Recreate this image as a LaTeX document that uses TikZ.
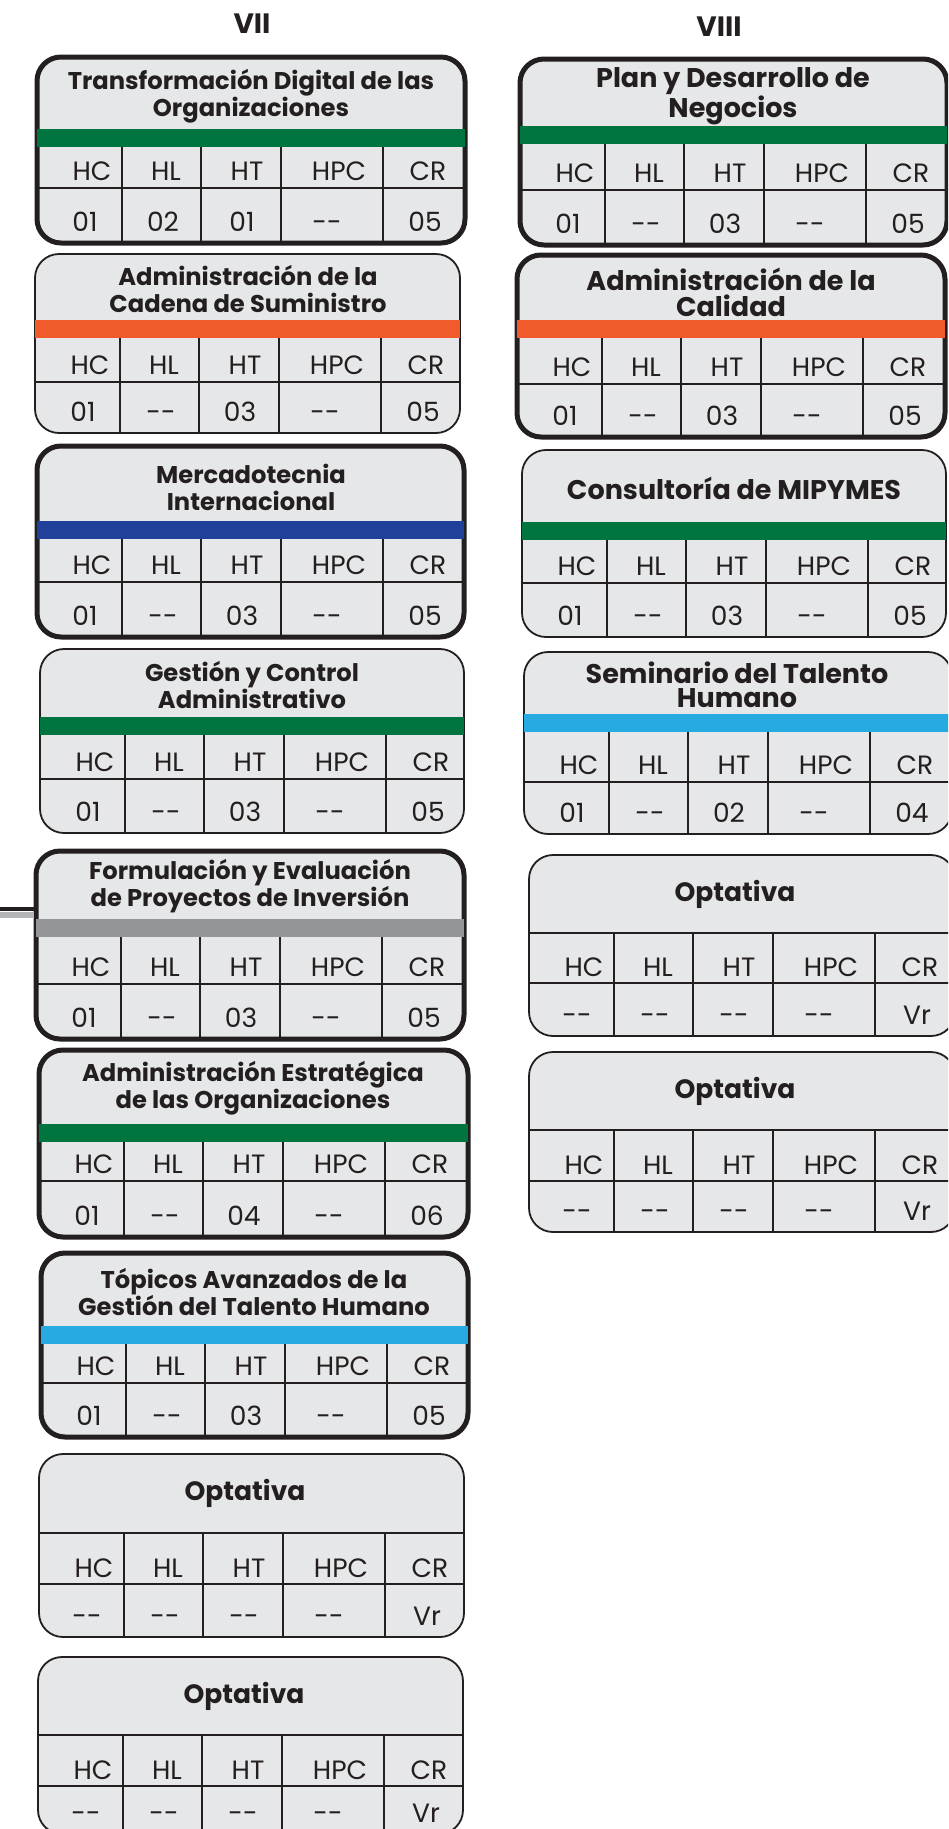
\documentclass[tikz,border=0pt]{standalone}
\usepackage{fontspec}
\setmainfont{Poppins}
\usetikzlibrary{fit}

\definecolor{fondo}{HTML}{E6E7E8}
\definecolor{tinta}{HTML}{231F20}
\definecolor{verde}{HTML}{00753F}
\definecolor{naranja}{HTML}{F15A2B}
\definecolor{azul}{HTML}{21409A}
\definecolor{celeste}{HTML}{27AAE1}
\definecolor{gris}{HTML}{939598}

\tikzset{
    caja/.style={draw=tinta, fill=fondo, rounded corners=24pt, inner sep=0pt},
    grueso/.style={line width=5pt},
    fino/.style={line width=1.8pt},
    raya/.style={draw=tinta, line width=1.5pt},
    titulo/.style={font=\fontsize{24.2}{27}\selectfont\bfseries, text=tinta, align=center},
    tituloG/.style={titulo, font=\fontsize{27}{26}\selectfont\bfseries},
    celda/.style={font=\fontsize{26.5}{30}\selectfont, text=tinta, anchor=base, inner sep=0pt},
    semestre/.style={font=\fontsize{28}{28}\selectfont\bfseries, text=tinta}
}

\newcommand{\nd}{-{}-}

% nombre, x0, y0, x1, y1, banda, fila, color, borde
\newcommand{\materia}[9]{
    \coordinate (#1-nw) at (#2,#3);
    \coordinate (#1-se) at (#4,#5);
    \node[caja, #9, fit=(#1-nw)(#1-se)] (#1) {};
    \fill[#8] (#2,#6) rectangle (#4,#6+18);
    \draw[raya] (#2,#7) -- (#4,#7);
    \foreach \dx in {85,164,244,346}
        \draw[raya] (#2+\dx,#6+18) -- (#2+\dx,#5);
    \foreach \cab/\dx in {HC/55,HL/129,HT/210,HPC/302,CR/391}
        \node[celda] (#1-\cab) at (#2+\dx,#7-8) {\cab};
}

% nombre, x0, y0, x1, y1, linea, fila
\newcommand{\optativa}[7]{
    \coordinate (#1-nw) at (#2,#3);
    \coordinate (#1-se) at (#4,#5);
    \node[caja, fino, fit=(#1-nw)(#1-se)] (#1) {};
    \draw[raya] (#2,#6) -- (#4,#6);
    \draw[raya] (#2,#7) -- (#4,#7);
    \foreach \dx in {85,164,244,346}
        \draw[raya] (#2+\dx,#6) -- (#2+\dx,#5);
    \foreach \cab/\dx in {HC/55,HL/129,HT/210,HPC/302,CR/391}
        \node[celda] (#1-\cab) at (#2+\dx,#7-7) {\cab};
    \node[titulo, font=\fontsize{26.5}{28}\selectfont\bfseries] (#1-t) at (#2+206,#3/2+#6/2) {Optativa};
    \valores{#1}{#2}{#5-12}{\nd,\nd,\nd,\nd,Vr}
}

% nombre, x0, base, lista
\newcommand{\valores}[4]{
    \foreach \val [count=\i] in {#4} {
        \pgfmathsetmacro{\dx}{{48,126,205,290,388}[\i-1]}
        \node[celda] (#1-v\i) at (#2+\dx,#3) {\val};
    }
}

\begin{document}
\begin{tikzpicture}[x=1pt, y=-1pt]
    \useasboundingbox (0,0) rectangle (948,1829);
    \clip (0,0) rectangle (948,1829);

    \node[semestre] (s7) at (252,24) {VII};
    \node[semestre] (s8) at (719,27) {VIII};

    % semestre VII
    \materia{TDO}{37}{57}{465}{243}{129}{188}{verde}{grueso}
    \node[titulo] (TDO-t) at (251,96) {Transformación Digital de las\\Organizaciones};
    \valores{TDO}{37}{231}{01,02,01,\nd,05}

    \materia{ACS}{35}{254}{460}{433}{320}{382}{naranja}{fino}
    \node[titulo] (ACS-t) at (248,289) {Administración de la\\Cadena de Suministro};
    \valores{ACS}{35}{421}{01,\nd,03,\nd,05}

    \materia{MI}{37}{446}{464}{637}{521}{582}{azul}{grueso}
    \node[titulo] (MI-t) at (251,487) {Mercadotecnia\\Internacional};
    \valores{MI}{37}{625}{01,\nd,03,\nd,05}

    \materia{GCA}{40}{649}{464}{833}{717}{779}{verde}{fino}
    \node[titulo] (GCA-t) at (252,685) {Gestión y Control\\Administrativo};
    \valores{GCA}{40}{821}{01,\nd,03,\nd,05}

    \materia{FEPI}{36}{851}{464}{1039}{919}{984}{gris}{grueso}
    \node[titulo] (FEPI-t) at (250,886) {Formulación y Evaluación\\de Proyectos de Inversión};
    \valores{FEPI}{36}{1027}{01,\nd,03,\nd,05}

    \materia{AEO}{39}{1050}{468}{1237}{1124}{1181}{verde}{grueso}
    \node[titulo] (AEO-t) at (253,1088) {Administración Estratégica\\de las Organizaciones};
    \valores{AEO}{39}{1225}{01,\nd,04,\nd,06}

    \materia{TAG}{41}{1253}{468}{1437}{1326}{1383}{celeste}{grueso}
    \node[titulo] (TAG-t) at (254,1292) {Tópicos Avanzados de la\\Gestión del Talento Humano};
    \valores{TAG}{41}{1425}{01,\nd,03,\nd,05}

    \optativa{OP1}{39}{1454}{464}{1637}{1533}{1584}
    \optativa{OP2}{38}{1657}{463}{1834}{1735}{1786}

    % semestre VIII
    \materia{PDN}{520}{59}{947}{245}{126}{190}{verde}{grueso}
    \node[tituloG, font=\fontsize{27}{28}\selectfont\bfseries] (PDN-t) at (733,96) {Plan y Desarrollo de\\Negocios};
    \valores{PDN}{520}{233}{01,\nd,03,\nd,05}

    \materia{ADC}{517}{255}{945}{437}{320}{384}{naranja}{grueso}
    \node[tituloG] (ADC-t) at (731,292) {Administración de la\\Calidad};
    \valores{ADC}{517}{425}{01,\nd,03,\nd,05}

    \materia{CM}{522}{450}{946}{637}{522}{583}{verde}{fino}
    \node[tituloG] (CM-t) at (734,488) {Consultoría de MIPYMES};
    \valores{CM}{522}{625}{01,\nd,03,\nd,05}

    \materia{STH}{524}{652}{952}{834}{714}{782}{celeste}{fino}
    \node[tituloG, font=\fontsize{27}{24}\selectfont\bfseries] (STH-t) at (737,685) {Seminario del Talento\\Humano};
    \valores{STH}{524}{822}{01,\nd,02,\nd,04}

    \optativa{OP3}{529}{855}{955}{1036}{933}{983}
    \optativa{OP4}{529}{1052}{955}{1232}{1130}{1181}

    % entrada por la izquierda
    \coordinate (entrada) at (0,909);
    \draw[gris!70, line width=6pt] ([yshift=-6pt]entrada) -- ([yshift=-6pt]entrada -| FEPI.west);
    \draw[tinta, line width=3.5pt] (entrada) -- (entrada -| FEPI.west);
\end{tikzpicture}
\end{document}
